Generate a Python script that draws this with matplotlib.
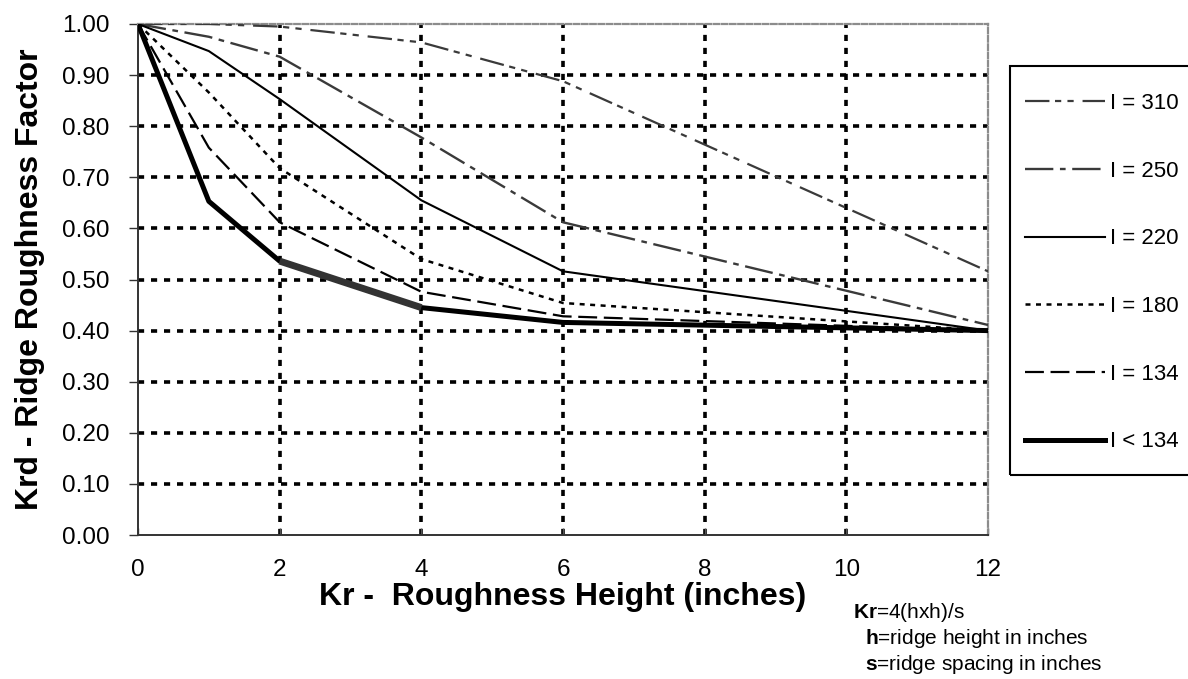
import numpy as np
import matplotlib
matplotlib.use("Agg")
import matplotlib.pyplot as plt
from matplotlib.patches import Rectangle

plt.rcParams['font.family'] = ['Liberation Sans', 'DejaVu Sans']
plt.rcParams['mathtext.fontset'] = 'custom'
plt.rcParams['mathtext.rm'] = 'Liberation Sans'
plt.rcParams['mathtext.bf'] = 'Liberation Sans:bold'

# Kr values (inches) and Krd
kr = [0, 1, 2, 4, 6, 12]
krd_310 = [1.00, 1.00, 0.995, 0.964, 0.888, 0.516]
krd_250 = [1.00, 0.975, 0.936, 0.778, 0.612, 0.411]
krd_220 = [1.00, 0.947, 0.853, 0.655, 0.516, 0.400]
krd_180 = [1.00, 0.866, 0.718, 0.540, 0.454, 0.400]
krd_134 = [1.00, 0.758, 0.612, 0.476, 0.428, 0.400]
krd_lt134 = [1.00, 0.653, 0.536, 0.445, 0.416, 0.400]

labels = ['I = 310', 'I = 250', 'I = 220', 'I = 180', 'I = 134', 'I < 134']
xticks = [0, 2, 4, 6, 8, 10, 12]
yticks = [0.0, 0.1, 0.2, 0.3, 0.4, 0.5, 0.6, 0.7, 0.8, 0.9, 1.0]

W, H = 1188, 679
fig = plt.figure(figsize=(W / 100, H / 100), dpi=100)
ax = fig.add_axes([138 / W, 1 - 535 / H, 850 / W, 511 / H])

dgray = '#3a3a3a'
ax.plot(kr, krd_310, color=dgray, lw=1.6, ls=(0, (11, 2.5, 2.8, 2.8, 2.8, 4)), label=labels[0], zorder=3)
ax.plot(kr, krd_250, color=dgray, lw=1.7, ls=(0, (12, 2.8, 2.4, 2.8)), label=labels[1], zorder=3)
ax.plot(kr, krd_220, color='black', lw=1.5, label=labels[2], zorder=3)
ax.plot(kr, krd_180, color='black', lw=1.8, ls=(0, (2, 2.2)), label=labels[3], zorder=3)
ax.plot(kr, krd_134, color='black', lw=1.6, ls=(0, (8.5, 3)), label=labels[4], zorder=3)
ax.plot(kr, krd_lt134, color='black', lw=3.6, label=labels[5], zorder=4)
# the 2-4 segment of the bottom curve is drawn darker and heavier in the original
ax.plot(kr[2:4], krd_lt134[2:4], color='#333333', lw=5, solid_capstyle='butt',
        label='_nolegend_', zorder=4)

ax.set_xlim(0, 12)
ax.set_ylim(0, 1)
ax.set_xticks(xticks)
ax.set_yticks(yticks)
ax.set_yticklabels([f'{v:.2f}' for v in yticks])

ax.grid(True, color='black', lw=2.6, ls=(0, (1.7, 1.9)), zorder=1)
for t, v in zip(ax.yaxis.get_major_ticks(), yticks):
    t.gridline.set_visible(0 < v < 1)
for t, v in zip(ax.xaxis.get_major_ticks(), xticks):
    t.gridline.set_visible(0 < v < 12)
ax.set_axisbelow(True)

for s in ['left', 'bottom']:
    ax.spines[s].set_color('#333333')
    ax.spines[s].set_linewidth(1.4)
for s in ['top', 'right']:
    ax.spines[s].set_color('#8c8c8c')
    ax.spines[s].set_linewidth(1.6)
    ax.spines[s].set_linestyle((0, (2.5, 1.2)))

ax.tick_params(axis='y', direction='out', length=6.5, width=1, color='#333333',
               labelsize=17.5, pad=14)
ax.tick_params(axis='x', direction='in', length=5, width=1, color='#555555',
               labelsize=17.5, pad=17)

ax.set_xlabel('Kr -  Roughness Height (inches)', fontsize=23, fontweight='bold', labelpad=1)
ax.set_ylabel('Krd - Ridge Roughness Factor', fontsize=23, fontweight='bold', labelpad=12)

fig.add_artist(Rectangle((1010 / W, 1 - 475 / H), 0.2, 409 / H, transform=fig.transFigure,
                         fill=False, ec='black', lw=1.5))
fig.legend(loc='upper left', bbox_to_anchor=(1025 / W, 1 - 93 / H), frameon=False,
           fontsize=16, borderpad=0, borderaxespad=0, handlelength=3.6,
           handletextpad=0.22, labelspacing=2.1)

fig.text(853 / W, 1 - 612 / H, r'$\mathbf{Kr}$=4(hxh)/s', fontsize=15, va='center')
fig.text(865 / W, 1 - 638 / H, r'$\mathbf{h}$=ridge height in inches', fontsize=15, va='center')
fig.text(865 / W, 1 - 664 / H, r'$\mathbf{s}$=ridge spacing in inches', fontsize=15, va='center')

fig.savefig('out.png', dpi=100)
